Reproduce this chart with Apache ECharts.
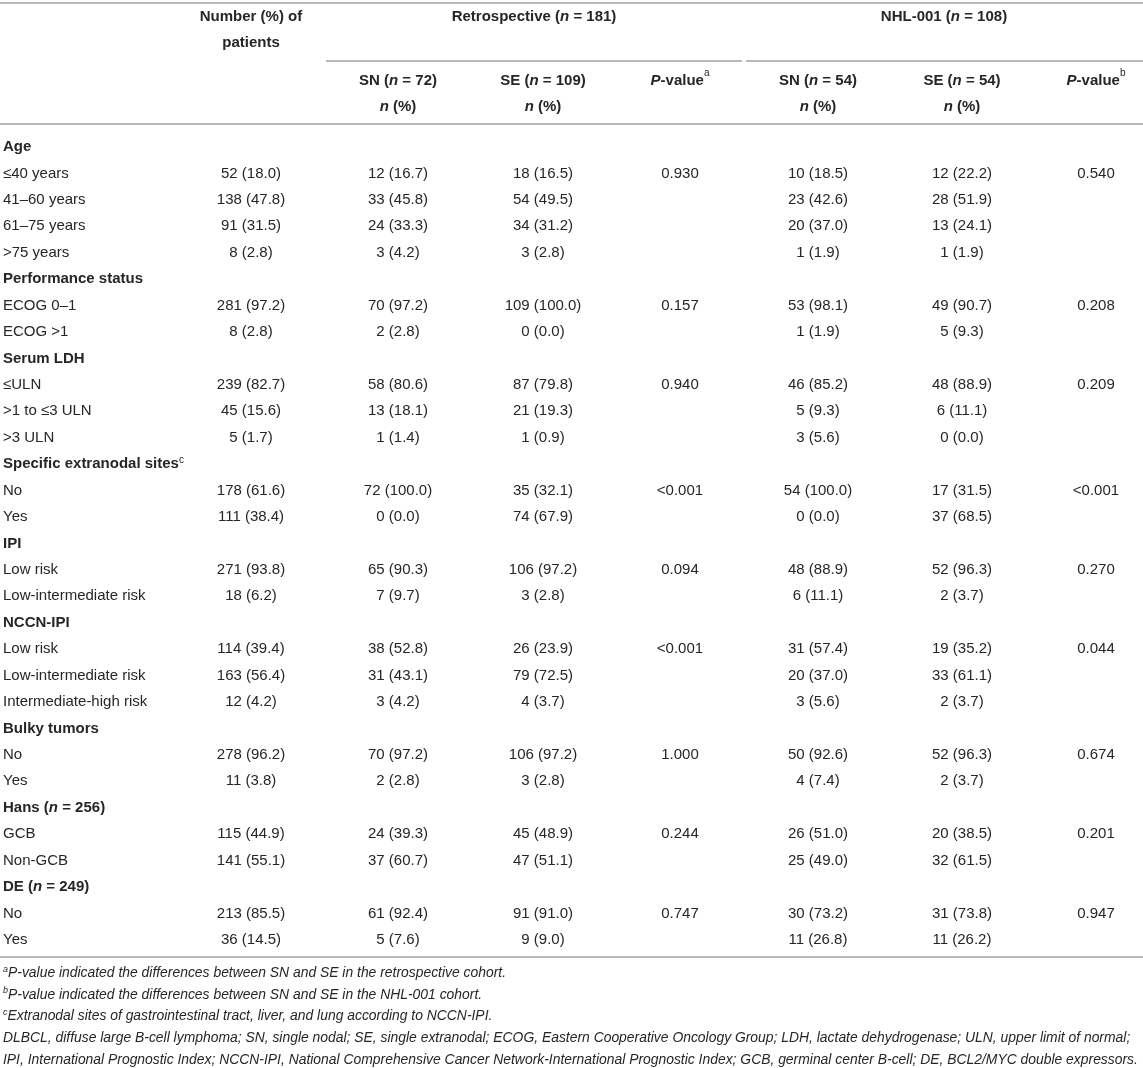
<!DOCTYPE html>
<html>
<head>
<meta charset="utf-8">
<script src="https://cdn.jsdelivr.net/npm/echarts@6/dist/echarts.min.js"></script>
<style>
  html, body { margin: 0; padding: 0; background: #fff; }
  #main { width: 1143px; height: 1068px; }
</style>
</head>
<body>
<div id="main"></div>
<script>
// table rows (group headings have no values)
const rowLabels = [
  'Age', '≤40 years', '41–60 years', '61–75 years', '>75 years',
  'Performance status', 'ECOG 0–1', 'ECOG >1',
  'Serum LDH', '≤ULN', '>1 to ≤3 ULN', '>3 ULN',
  'Specific extranodal sites^c', 'No', 'Yes',
  'IPI', 'Low risk', 'Low-intermediate risk',
  'NCCN-IPI', 'Low risk', 'Low-intermediate risk', 'Intermediate-high risk',
  'Bulky tumors', 'No', 'Yes',
  'Hans (n = 256)', 'GCB', 'Non-GCB',
  'DE (n = 249)', 'No', 'Yes'
];
const totalPatients = [
  '', '52 (18.0)', '138 (47.8)', '91 (31.5)', '8 (2.8)',
  '', '281 (97.2)', '8 (2.8)',
  '', '239 (82.7)', '45 (15.6)', '5 (1.7)',
  '', '178 (61.6)', '111 (38.4)',
  '', '271 (93.8)', '18 (6.2)',
  '', '114 (39.4)', '163 (56.4)', '12 (4.2)',
  '', '278 (96.2)', '11 (3.8)',
  '', '115 (44.9)', '141 (55.1)',
  '', '213 (85.5)', '36 (14.5)'
];
const retroSN = [
  '', '12 (16.7)', '33 (45.8)', '24 (33.3)', '3 (4.2)',
  '', '70 (97.2)', '2 (2.8)',
  '', '58 (80.6)', '13 (18.1)', '1 (1.4)',
  '', '72 (100.0)', '0 (0.0)',
  '', '65 (90.3)', '7 (9.7)',
  '', '38 (52.8)', '31 (43.1)', '3 (4.2)',
  '', '70 (97.2)', '2 (2.8)',
  '', '24 (39.3)', '37 (60.7)',
  '', '61 (92.4)', '5 (7.6)'
];
const retroSE = [
  '', '18 (16.5)', '54 (49.5)', '34 (31.2)', '3 (2.8)',
  '', '109 (100.0)', '0 (0.0)',
  '', '87 (79.8)', '21 (19.3)', '1 (0.9)',
  '', '35 (32.1)', '74 (67.9)',
  '', '106 (97.2)', '3 (2.8)',
  '', '26 (23.9)', '79 (72.5)', '4 (3.7)',
  '', '106 (97.2)', '3 (2.8)',
  '', '45 (48.9)', '47 (51.1)',
  '', '91 (91.0)', '9 (9.0)'
];
const retroP = [
  '', '0.930', '', '', '',
  '', '0.157', '',
  '', '0.940', '', '',
  '', '<0.001', '',
  '', '0.094', '',
  '', '<0.001', '', '',
  '', '1.000', '',
  '', '0.244', '',
  '', '0.747', ''
];
const nhlSN = [
  '', '10 (18.5)', '23 (42.6)', '20 (37.0)', '1 (1.9)',
  '', '53 (98.1)', '1 (1.9)',
  '', '46 (85.2)', '5 (9.3)', '3 (5.6)',
  '', '54 (100.0)', '0 (0.0)',
  '', '48 (88.9)', '6 (11.1)',
  '', '31 (57.4)', '20 (37.0)', '3 (5.6)',
  '', '50 (92.6)', '4 (7.4)',
  '', '26 (51.0)', '25 (49.0)',
  '', '30 (73.2)', '11 (26.8)'
];
const nhlSE = [
  '', '12 (22.2)', '28 (51.9)', '13 (24.1)', '1 (1.9)',
  '', '49 (90.7)', '5 (9.3)',
  '', '48 (88.9)', '6 (11.1)', '0 (0.0)',
  '', '17 (31.5)', '37 (68.5)',
  '', '52 (96.3)', '2 (3.7)',
  '', '19 (35.2)', '33 (61.1)', '2 (3.7)',
  '', '52 (96.3)', '2 (3.7)',
  '', '20 (38.5)', '32 (61.5)',
  '', '31 (73.8)', '11 (26.2)'
];
const nhlP = [
  '', '0.540', '', '', '',
  '', '0.208', '',
  '', '0.209', '', '',
  '', '<0.001', '',
  '', '0.270', '',
  '', '0.044', '', '',
  '', '0.674', '',
  '', '0.201', '',
  '', '0.947', ''
];

// header texts
const topHeaders = ['Number (%) of\npatients', 'Retrospective (n = 181)', 'NHL-001 (n = 108)'];
const subHeaders = ['SN (n = 72)\nn (%)', 'SE (n = 109)\nn (%)', 'P-value^a', 'SN (n = 54)\nn (%)', 'SE (n = 54)\nn (%)', 'P-value^b'];
const footnotes = [
  '^aP-value indicated the differences between SN and SE in the retrospective cohort.',
  '^bP-value indicated the differences between SN and SE in the NHL-001 cohort.',
  '^cExtranodal sites of gastrointestinal tract, liver, and lung according to NCCN-IPI.',
  'DLBCL, diffuse large B-cell lymphoma; SN, single nodal; SE, single extranodal; ECOG, Eastern Cooperative Oncology Group; LDH, lactate dehydrogenase; ULN, upper limit of normal;',
  'IPI, International Prognostic Index; NCCN-IPI, National Comprehensive Cancer Network-International Prognostic Index; GCB, germinal center B-cell; DE, BCL2/MYC double expressors.'
];

const valueCols = [totalPatients, retroSN, retroSE, retroP, nhlSN, nhlSE, nhlP];

const FONT = "'Liberation Sans', Arial, Helvetica, sans-serif";
const INK = '#262626';
const RULE = '#b8b8b8';
const COL_X = [251, 398, 543, 680, 818, 962, 1096];
const ROW_TOP = 133.8;
const ROW_H = 26.43;

// turn ^x into superscripts, n / P into italics
function markup(s) {
  return s
    .replace(/\^([a-z])/g, '{sup|$1}')
    .replace(/\(n = /g, '({it|n} = ')
    .replace(/^n \(%\)/gm, '{it|n} (%)')
    .replace(/^P-/, '{it|P}-');
}

function richFor(size, weight, italic) {
  return {
    it: { fontFamily: FONT, fontSize: size, fontWeight: weight, fontStyle: 'italic', fill: INK, lineHeight: size + 3 },
    sup: { fontFamily: FONT, fontSize: Math.round(size * 0.66), fontWeight: 'normal', fontStyle: italic ? 'italic' : 'normal', fill: INK, verticalAlign: 'top', lineHeight: Math.round(size * 0.7) }
  };
}

function textEl(str, x, y, opts) {
  const size = opts.size || 15;
  const weight = opts.weight || 'normal';
  const italic = !!opts.italic;
  return {
    type: 'text',
    x: x,
    y: y,
    style: {
      text: markup(str),
      align: opts.align || 'center',
      verticalAlign: 'middle',
      fontFamily: FONT,
      fontSize: size,
      fontWeight: weight,
      fontStyle: italic ? 'italic' : 'normal',
      fill: INK,
      lineHeight: opts.lineHeight || size + 3,
      rich: richFor(size, weight, italic)
    }
  };
}

function rule(x1, x2, y) {
  return {
    type: 'line',
    shape: { x1: x1, y1: y, x2: x2, y2: y },
    style: { stroke: RULE, lineWidth: 2 }
  };
}

const chart = echarts.init(document.getElementById('main'), null, { renderer: 'canvas' });

const graphics = [
  rule(0, 1143, 3),
  rule(326, 742, 61),
  rule(746, 1143, 61),
  rule(0, 1143, 124),
  rule(0, 1143, 957),
  textEl(topHeaders[0], COL_X[0], 30, { weight: 'bold', lineHeight: 26 }),
  textEl(topHeaders[1], 534, 17, { weight: 'bold' }),
  textEl(topHeaders[2], 944, 17, { weight: 'bold' })
];
subHeaders.forEach(function (h, k) {
  const twoLines = h.indexOf('\n') >= 0;
  graphics.push(textEl(h, COL_X[k + 1], twoLines ? 94 : 81, { weight: 'bold', lineHeight: 26 }));
});
footnotes.forEach(function (f, k) {
  graphics.push(textEl(f, 3, 973 + k * 21.7, { align: 'left', size: 13.9, italic: true, lineHeight: 17 }));
});

const option = {
  animation: false,
  grid: { left: 0, right: 0, top: ROW_TOP, height: ROW_H * rowLabels.length },
  xAxis: { type: 'value', min: 0, max: 1143, show: false },
  yAxis: {
    type: 'category',
    data: rowLabels.map(function (l, i) { return String(i); }),
    inverse: true,
    show: false
  },
  series: [{
    type: 'custom',
    coordinateSystem: 'cartesian2d',
    data: rowLabels.map(function (l, i) { return [0, i]; }),
    renderItem: function (params, api) {
      const i = api.value(1);
      const y = api.coord([0, i])[1];
      const heading = totalPatients[i] === '';
      const children = [
        textEl(rowLabels[i], 3, y, { align: 'left', weight: heading ? 'bold' : 'normal' })
      ];
      valueCols.forEach(function (col, c) {
        if (!col[i]) return;
        children.push(textEl(col[i], api.coord([COL_X[c], i])[0], y, {}));
      });
      return { type: 'group', children: children };
    }
  }],
  graphic: graphics
};

chart.setOption(option);
</script>
</body>
</html>
